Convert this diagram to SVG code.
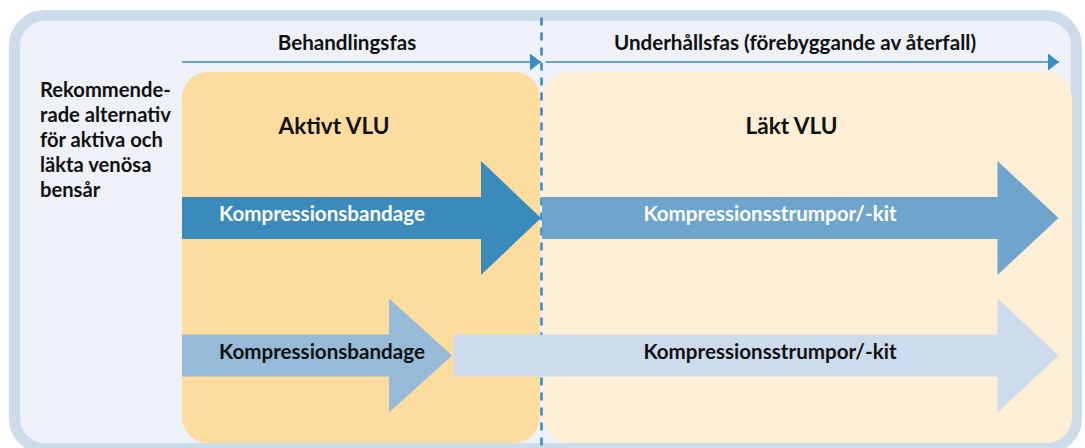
<svg xmlns="http://www.w3.org/2000/svg" width="1085" height="448" viewBox="0 0 1085 448">
  <defs>
    <style>
      text { font-family: Lato, "Open Sans", "Liberation Sans", sans-serif; font-weight: 700; }
      .hdr { font-size: 20.6px; fill: #111; }
      .side { font-size: 20.2px; fill: #111; }
      .phase { font-size: 22.6px; fill: #111; }
      .lbl { font-size: 20.6px; }
      .white { fill: #ffffff; }
      .dark { fill: #111; }
      .axis { stroke: #3a8ec2; stroke-width: 1.7; fill: none; }
    </style>
    <marker id="ah" viewBox="0 0 11 17" refX="11" refY="8.5" markerWidth="11" markerHeight="17" markerUnits="userSpaceOnUse" orient="auto">
      <path d="M0,0 L11,8.5 L0,17 Z" fill="#3a8ec2"/>
    </marker>
  </defs>

  <g id="frame">
    <rect x="14.5" y="15.5" width="1062" height="433" rx="30" ry="30" fill="#eef2f8" stroke="#cddcea" stroke-width="11"/>
  </g>

  <g id="phase-active">
    <rect x="182" y="72" width="358" height="371" rx="26" ry="26" fill="#fcdd9f"/>
    <text class="phase" x="334" y="133.5" text-anchor="middle">Aktivt VLU</text>
  </g>

  <g id="phase-healed">
    <rect x="543" y="72" width="529" height="371" rx="26" ry="26" fill="#fdefd6"/>
    <text class="phase" x="791.5" y="133.5" text-anchor="middle">Läkt VLU</text>
  </g>

  <g id="side-label">
    <text class="side" x="40" y="97">
      <tspan x="40" dy="0">Rekommende-</tspan>
      <tspan x="40" dy="24.9">rade alternativ</tspan>
      <tspan x="40" dy="24.9">för aktiva och</tspan>
      <tspan x="40" dy="24.9">läkta venösa</tspan>
      <tspan x="40" dy="24.9">bensår</tspan>
    </text>
  </g>

  <g id="connectors">
    <line x1="541.5" y1="17.5" x2="541.5" y2="448" stroke="#3a8ec2" stroke-width="2.6" stroke-dasharray="8 7"/>
    <line class="axis" x1="182" y1="62" x2="541" y2="62" marker-end="url(#ah)"/>
    <line class="axis" x1="545.5" y1="62" x2="1059" y2="62" marker-end="url(#ah)"/>
  </g>

  <g id="header-active">
    <text class="hdr" x="347" y="49.5" text-anchor="middle">Behandlingsfas</text>
  </g>
  <g id="header-maintenance">
    <text class="hdr" x="795" y="49.5" text-anchor="middle">Underhållsfas (förebyggande av återfall)</text>
  </g>

  <g id="arrow-bandage-active">
    <path d="M182,197 L481,197 L481,161 L541,218 L481,275 L481,239 L182,239 Z" fill="#3a8bbc"/>
    <text class="lbl white" x="322" y="221" text-anchor="middle">Kompressionsbandage</text>
  </g>

  <g id="arrow-stockings-active">
    <path d="M542,197 L997.5,197 L997.5,161 L1058.5,218 L997.5,275 L997.5,239 L542,239 Z" fill="#6fa5cc"/>
    <text class="lbl white" x="770" y="221" text-anchor="middle">Kompressionsstrumpor/-kit</text>
  </g>

  <g id="arrow-bandage-alt">
    <path d="M182,334.5 L389,334.5 L389,298.5 L452,355.5 L389,412.5 L389,376.5 L182,376.5 Z" fill="#96bad8"/>
    <text class="lbl dark" x="322" y="359" text-anchor="middle">Kompressionsbandage</text>
  </g>

  <g id="arrow-stockings-alt">
    <path d="M453.5,334.5 L997.5,334.5 L997.5,298.5 L1058.5,355.5 L997.5,412.5 L997.5,376.5 L453.5,376.5 Z" fill="#ccdcec"/>
    <text class="lbl dark" x="770" y="359" text-anchor="middle">Kompressionsstrumpor/-kit</text>
  </g>
</svg>
